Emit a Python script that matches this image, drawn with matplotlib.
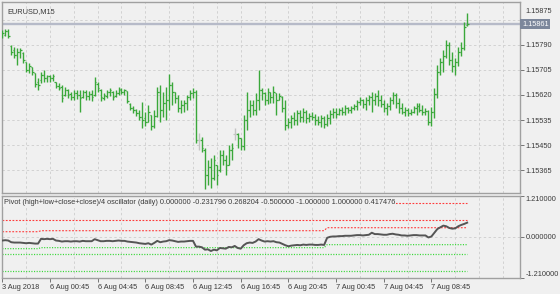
import numpy as np
import matplotlib
matplotlib.use("Agg")
import matplotlib.pyplot as plt
import matplotlib.transforms as mtransforms

# EURUSD M15, 3 Aug 2018 20:45 .. 7 Aug 2018 11:45 (prices in points, 1e-5)
opens = [
    115821, 115824, 115838, 115787, 115773, 115756, 115766, 115763, 115732, 115705,
    115715, 115695, 115664, 115671, 115688, 115678, 115685, 115678, 115664, 115651,
    115647, 115620, 115637, 115623, 115613, 115627, 115620, 115613, 115630, 115617,
    115623, 115620, 115657, 115637, 115610, 115617, 115630, 115630, 115617, 115627,
    115637, 115630, 115634, 115589, 115576, 115569, 115559, 115545, 115542, 115528,
    115552, 115515, 115549, 115630, 115569, 115593, 115603, 115654, 115630, 115610,
    115576, 115586, 115593, 115613, 115627, 115630, 115467, 115467, 115433, 115348,
    115375, 115338, 115382, 115365, 115416, 115399, 115382, 115433, 115487, 115487,
    115474, 115447, 115535, 115569, 115586, 115569, 115603, 115637, 115627, 115603,
    115630, 115613, 115627, 115603, 115613, 115576, 115518, 115528, 115542, 115535,
    115559, 115545, 115562, 115542, 115549, 115545, 115535, 115528, 115542, 115521,
    115542, 115555, 115562, 115555, 115569, 115562, 115576, 115569, 115576, 115583,
    115596, 115603, 115589, 115603, 115613, 115603, 115617, 115603, 115589, 115576,
    115583, 115603, 115620, 115593, 115576, 115562, 115569, 115559, 115562, 115576,
    115583, 115569, 115562, 115566, 115528, 115562, 115623, 115698, 115732, 115753,
    115790, 115739, 115719, 115732, 115766, 115780, 115858,
]
highs = [
    115841, 115844, 115844, 115790, 115783, 115780, 115780, 115766, 115732, 115729,
    115715, 115695, 115678, 115698, 115705, 115688, 115688, 115691, 115664, 115661,
    115654, 115647, 115640, 115630, 115637, 115637, 115637, 115637, 115637, 115634,
    115637, 115681, 115664, 115640, 115627, 115637, 115644, 115634, 115637, 115647,
    115644, 115640, 115634, 115593, 115583, 115572, 115569, 115596, 115562, 115586,
    115552, 115569, 115647, 115654, 115630, 115647, 115691, 115664, 115630, 115620,
    115603, 115603, 115620, 115637, 115644, 115637, 115491, 115477, 115440, 115399,
    115406, 115416, 115382, 115433, 115433, 115416, 115450, 115457, 115508, 115491,
    115474, 115552, 115630, 115603, 115603, 115627, 115705, 115644, 115630, 115644,
    115630, 115651, 115627, 115627, 115617, 115603, 115542, 115552, 115562, 115569,
    115569, 115576, 115569, 115559, 115562, 115555, 115549, 115552, 115549, 115555,
    115569, 115576, 115576, 115576, 115579, 115586, 115579, 115583, 115589, 115603,
    115613, 115606, 115613, 115620, 115630, 115627, 115637, 115620, 115603, 115593,
    115613, 115630, 115627, 115610, 115593, 115579, 115576, 115572, 115583, 115593,
    115593, 115586, 115576, 115569, 115579, 115644, 115722, 115746, 115773, 115807,
    115800, 115766, 115746, 115783, 115800, 115868, 115899,
]
lows = [
    115814, 115821, 115814, 115756, 115746, 115722, 115746, 115729, 115698, 115695,
    115688, 115647, 115637, 115661, 115664, 115664, 115664, 115668, 115644, 115637,
    115596, 115617, 115610, 115603, 115603, 115606, 115562, 115610, 115603, 115603,
    115600, 115617, 115630, 115600, 115603, 115610, 115617, 115603, 115613, 115620,
    115623, 115620, 115593, 115569, 115559, 115549, 115535, 115508, 115515, 115528,
    115501, 115508, 115545, 115528, 115545, 115535, 115569, 115586, 115593, 115562,
    115559, 115562, 115569, 115603, 115610, 115457, 115433, 115426, 115300, 115314,
    115304, 115331, 115314, 115358, 115382, 115348, 115382, 115399, 115467, 115440,
    115433, 115433, 115501, 115545, 115552, 115552, 115569, 115603, 115586, 115589,
    115593, 115593, 115552, 115603, 115562, 115501, 115508, 115508, 115518, 115518,
    115528, 115528, 115525, 115528, 115535, 115518, 115518, 115511, 115508, 115515,
    115521, 115542, 115542, 115552, 115552, 115552, 115559, 115559, 115569, 115569,
    115586, 115576, 115569, 115586, 115562, 115586, 115583, 115579, 115562, 115552,
    115569, 115589, 115576, 115559, 115555, 115549, 115549, 115552, 115559, 115552,
    115562, 115552, 115552, 115518, 115515, 115542, 115610, 115688, 115698, 115746,
    115722, 115698, 115688, 115719, 115753, 115773, 115855,
]
closes = [
    115831, 115838, 115821, 115766, 115756, 115766, 115773, 115739, 115705, 115719,
    115698, 115657, 115654, 115688, 115678, 115685, 115678, 115685, 115651, 115644,
    115610, 115637, 115620, 115613, 115627, 115620, 115610, 115630, 115617, 115623,
    115613, 115664, 115644, 115613, 115620, 115630, 115637, 115613, 115627, 115640,
    115630, 115637, 115600, 115576, 115569, 115559, 115545, 115535, 115528, 115562,
    115515, 115549, 115630, 115569, 115593, 115603, 115654, 115630, 115610, 115576,
    115586, 115593, 115613, 115627, 115630, 115467, 115467, 115440, 115348, 115375,
    115338, 115399, 115348, 115416, 115399, 115382, 115433, 115440, 115487, 115474,
    115447, 115535, 115569, 115586, 115569, 115603, 115637, 115627, 115603, 115630,
    115613, 115630, 115603, 115617, 115576, 115518, 115528, 115542, 115535, 115559,
    115545, 115562, 115542, 115549, 115545, 115535, 115528, 115542, 115521, 115542,
    115555, 115562, 115555, 115569, 115562, 115576, 115569, 115576, 115583, 115596,
    115603, 115589, 115603, 115613, 115603, 115617, 115603, 115589, 115576, 115583,
    115603, 115620, 115593, 115576, 115562, 115569, 115559, 115562, 115576, 115583,
    115569, 115562, 115566, 115528, 115562, 115623, 115698, 115732, 115753, 115790,
    115739, 115719, 115732, 115766, 115780, 115851, 115861,
]

# pivot oscillator, one value per bar
osc = [
    -0.11, -0.10, -0.11, -0.16, -0.17, -0.17, -0.17, -0.18, -0.19, -0.18,
    -0.19, -0.20, -0.20, -0.06, -0.07, -0.06, -0.07, -0.06, -0.11, -0.12,
    -0.14, -0.13, -0.13, -0.14, -0.13, -0.13, -0.14, -0.12, -0.13, -0.13,
    -0.13, -0.07, -0.10, -0.13, -0.13, -0.12, -0.12, -0.13, -0.12, -0.11,
    -0.12, -0.12, -0.14, -0.15, -0.16, -0.17, -0.19, -0.20, -0.21, -0.19,
    -0.23, -0.18, -0.12, -0.16, -0.14, -0.13, -0.10, -0.11, -0.13, -0.15,
    -0.14, -0.14, -0.13, -0.12, -0.12, -0.29, -0.29, -0.31, -0.38, -0.37,
    -0.42, -0.38, -0.40, -0.33, -0.34, -0.35, -0.30, -0.31, -0.27, -0.33,
    -0.35, -0.25, -0.19, -0.17, -0.18, -0.14, -0.07, -0.11, -0.14, -0.13,
    -0.14, -0.13, -0.16, -0.17, -0.21, -0.25, -0.28, -0.26, -0.25, -0.24,
    -0.25, -0.23, -0.24, -0.23, -0.23, -0.24, -0.24, -0.23, -0.24, -0.03,
    0.00, 0.01, 0.01, 0.02, 0.02, 0.03, 0.03, 0.03, 0.04, 0.05,
    0.05, 0.04, 0.05, 0.06, 0.12, 0.08, 0.08, 0.07, 0.06, 0.06,
    0.08, 0.09, 0.07, 0.06, 0.04, 0.04, 0.03, 0.04, 0.05, 0.05,
    0.04, 0.04, 0.04, -0.02, 0.01, 0.12, 0.23, 0.28, 0.33, 0.31,
    0.26, 0.24, 0.25, 0.31, 0.35, 0.38, 0.417476,
]

# daily levels (3 Aug, 6 Aug, 7 Aug)
day_start_bars = [0, 13, 109]
day_upper = [0.15, 0.18, 0.268204]
day_lower = [-0.35, -0.32, -0.231796]
fixed_red = [1.0, 0.5]
fixed_green = [-0.5, -1.0]

last_price = 1.15861
price_ticks = [1.15875, 1.15790, 1.15705, 1.15620, 1.15535, 1.15450, 1.15365]
osc_ticks = [1.21, 0.0, -1.21]
time_tick_bars = [0, 16, 32, 48, 64, 80, 96, 112, 128, 144]
time_tick_labels = ["3 Aug 2018", "6 Aug 00:45", "6 Aug 04:45", "6 Aug 08:45",
                    "6 Aug 12:45", "6 Aug 16:45", "6 Aug 20:45", "7 Aug 00:45",
                    "7 Aug 04:45", "7 Aug 08:45"]
legend_text = ("Pivot (high+low+close+close)/4 oscillator (daily) 0.000000 -0.231796 "
               "0.268204 -0.500000 -1.000000 1.000000 0.417476")

BG = "#f0f0f0"
SPINE = "#a0a0a0"
GRID = "#d2d2d2"
TXT = "#3a3a3a"
FONT = "Liberation Sans"
FS = 5.35

W, H = 560, 294
fig = plt.figure(figsize=(W / 100, H / 100), dpi=100, facecolor=BG)
ax = fig.add_axes([2 / W, 1 - 193 / H, 518 / W, 191 / H], facecolor=BG)
ax2 = fig.add_axes([2 / W, 1 - 277.8 / H, 518 / W, 82 / H], facecolor=BG)

o = np.array(opens) / 1e5
h = np.array(highs) / 1e5
l = np.array(lows) / 1e5
c = np.array(closes) / 1e5
x = np.arange(len(c))
n = len(c)

bar_cols = np.where(o == c, "#c4c4c4", "#3aa83a")
ax.vlines(x, l, h, colors=bar_cols, lw=1.0, zorder=3)
ax.hlines(o, x - 0.5, x, colors=bar_cols, lw=0.9, zorder=3)
ax.hlines(c, x, x + 0.5, colors=bar_cols, lw=0.9, zorder=3)
ax.axhline(last_price, color="#b6bac8", lw=1.7, zorder=2)

xmin, xmax = -0.1, -0.1 + 518 / 2.98
for a in (ax, ax2):
    a.set_xlim(xmin, xmax)
    for s in a.spines.values():
        s.set_color(SPINE)
        s.set_linewidth(1.0)
    a.yaxis.tick_right()
    a.tick_params(axis="y", direction="out", length=3, width=0.6, color="#606060",
                  labelsize=FS, labelcolor=TXT, pad=1)
    a.set_xticks(np.arange(0, xmax, 8), minor=True)
    a.grid(True, which="minor", axis="x", color=GRID, ls=(0, (2.5, 2.5)), lw=0.7)
    a.tick_params(axis="x", which="minor", length=0)

ax.set_ylim(1.15287, 1.15936)
ax.set_yticks(price_ticks)
ax.set_yticklabels([f"{p:.5f}" for p in price_ticks], family=FONT)
ax.grid(True, which="major", axis="y", color=GRID, ls=(0, (2.5, 2.5)), lw=0.7)
ax.set_xticks([])
# MT4 pushes the label above the current-price box
shift = mtransforms.ScaledTranslation(0, 0.09, fig.dpi_scale_trans)
top_lab = ax.get_yticklabels()[0]
top_lab.set_transform(top_lab.get_transform() + shift)
ax.text(1.0 + 2 / 518, last_price, f"{last_price:.5f}", transform=ax.get_yaxis_transform(),
        ha="left", va="center", fontsize=FS, family=FONT, color="white", zorder=5,
        bbox=dict(boxstyle="square,pad=0.25", fc="#7c879b", ec="none"), clip_on=False)
ax.text(5 / 518, 1 - 6 / 191, "EURUSD,M15", transform=ax.transAxes, ha="left", va="top",
        fontsize=FS, family=FONT, color=TXT)

# oscillator pane
day_len = np.diff(day_start_bars + [n])
upper = np.repeat(day_upper, day_len)
lower = np.repeat(day_lower, day_len)
red_dash = (0, (1.6, 1.4))
green_dot = (0, (0.9, 1.2))
for v in fixed_red:
    ax2.plot(x, np.full(n, v), color="#ff3b3b", lw=0.8, ls=red_dash, zorder=2)
ax2.plot(x, upper, color="#ff3b3b", lw=0.8, ls=red_dash, zorder=2)
ax2.plot(x, lower, color="#3ad83a", lw=0.9, ls=green_dot, zorder=2)
for v in fixed_green:
    ax2.plot(x, np.full(n, v), color="#3ad83a", lw=0.9, ls=green_dot, zorder=2)
ax2.plot(x, osc, color="#555555", lw=1.4, zorder=3)

ax2.set_ylim(-1.21, 1.21)
ax2.set_yticks(osc_ticks)
ax2.set_yticklabels([f"{v:.6f}" for v in osc_ticks], family=FONT)
labs = ax2.get_yticklabels()
labs[0].set_va("top")
labs[-1].set_va("bottom")
ax2.grid(True, which="major", axis="y", color=GRID, ls=(0, (2.5, 2.5)), lw=0.7)
ax2.set_xticks(time_tick_bars)
ax2.set_xticklabels(time_tick_labels, family=FONT, ha="left")
ax2.tick_params(axis="x", which="major", direction="out", length=3, width=0.6,
                color="#606060", labelsize=FS, labelcolor=TXT, pad=1.5)
ax2.text(2 / 518, 1.0, legend_text, transform=ax2.get_yaxis_transform(), ha="left",
         va="center", fontsize=FS, family=FONT, color=TXT, zorder=6,
         bbox=dict(boxstyle="square,pad=0.1", fc=BG, ec="none"))

fig.savefig("out.png", dpi=100, facecolor=BG)
